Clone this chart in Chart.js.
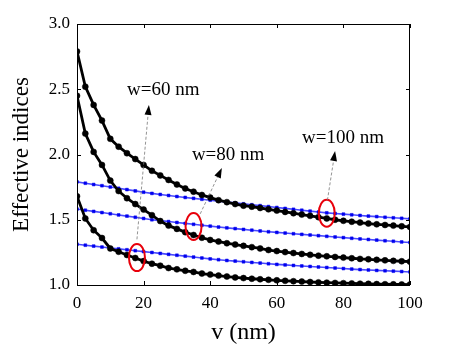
<!DOCTYPE html>
<html>
<head>
<meta charset="utf-8">
<script src="https://cdn.jsdelivr.net/npm/chart.js@4"></script>
<style>
  body { margin: 0; background: #fff; }
  canvas { display: block; }
</style>
</head>
<body>
<canvas id="myChart" width="452" height="350"></canvas>
<script>
const ctx = document.getElementById('myChart')

// v in nm, one point every 2.5 nm
const v = [0,2.5,5,7.5,10,12.5,15,17.5,20,22.5,25,27.5,30,32.5,35,37.5,40,42.5,45,47.5,50,52.5,55,57.5,60,62.5,65,67.5,70,72.5,75,77.5,80,82.5,85,87.5,90,92.5,95,97.5,100]

// black curves (top to bottom)
const black1 = [2.79,2.52,2.38,2.26,2.12,2.06,2.01,1.965,1.92,1.875,1.84,1.805,1.77,1.74,1.715,1.69,1.67,1.65,1.635,1.62,1.608,1.60,1.59,1.58,1.57,1.56,1.55,1.54,1.53,1.52,1.51,1.50,1.492,1.485,1.478,1.471,1.465,1.46,1.455,1.45,1.445]
const black2 = [2.45,2.16,2.02,1.92,1.80,1.72,1.665,1.62,1.578,1.535,1.49,1.455,1.43,1.405,1.383,1.362,1.345,1.333,1.32,1.31,1.30,1.29,1.28,1.268,1.26,1.252,1.245,1.238,1.231,1.225,1.22,1.215,1.21,1.205,1.20,1.197,1.193,1.189,1.185,1.182,1.179]
const black3 = [1.68,1.51,1.42,1.36,1.28,1.255,1.23,1.207,1.183,1.163,1.148,1.13,1.12,1.109,1.10,1.088,1.08,1.072,1.065,1.058,1.053,1.048,1.044,1.04,1.036,1.032,1.029,1.026,1.023,1.02,1.018,1.016,1.014,1.012,1.01,1.009,1.007,1.006,1.005,1.004,1.003]

// blue lines (top to bottom)
const blue1 = [1.790,1.780,1.770,1.761,1.751,1.741,1.731,1.721,1.711,1.702,1.694,1.686,1.678,1.671,1.664,1.657,1.650,1.643,1.636,1.629,1.622,1.615,1.608,1.601,1.594,1.587,1.580,1.573,1.566,1.559,1.553,1.548,1.543,1.538,1.533,1.528,1.524,1.519,1.515,1.511,1.507]
const blue2 = [1.582,1.573,1.564,1.555,1.546,1.537,1.528,1.519,1.510,1.500,1.493,1.486,1.479,1.472,1.465,1.458,1.451,1.444,1.438,1.432,1.426,1.420,1.414,1.408,1.403,1.398,1.393,1.388,1.383,1.378,1.373,1.368,1.363,1.358,1.353,1.349,1.344,1.339,1.335,1.330,1.326]
const blue3 = [1.312,1.305,1.298,1.291,1.284,1.277,1.270,1.263,1.256,1.249,1.242,1.235,1.228,1.221,1.214,1.207,1.200,1.194,1.188,1.183,1.178,1.173,1.168,1.163,1.158,1.154,1.150,1.146,1.142,1.138,1.134,1.130,1.126,1.122,1.118,1.115,1.112,1.109,1.106,1.103,1.100]

// labels, ellipses and arrows in data units
const labels = [
  { text: 'w=60 nm', x: 15, y: 2.456 },
  { text: 'w=80 nm', x: 34.5, y: 1.958 },
  { text: 'w=100 nm', x: 67.6, y: 2.088 }
]
const circles = [
  { x: 18, y: 1.21 },
  { x: 35, y: 1.448 },
  { x: 75, y: 1.55 }
]
const arrows = [
  { x0: 18, y0: 1.35, x1: 21.6, y1: 2.38 },
  { x0: 37, y0: 1.545, x1: 43.5, y1: 1.897 },
  { x0: 75.2, y0: 1.65, x1: 77.5, y1: 2.027 }
]

const serif = "'Liberation Serif', 'Times New Roman', serif"

const pts = arr => arr.map((y, i) => ({ x: v[i], y: y }))

const blackSet = arr => ({
  data: pts(arr),
  borderColor: '#000',
  backgroundColor: '#000',
  borderWidth: 2.8,
  pointRadius: 3,
  pointBorderWidth: 0.5,
  pointStyle: 'circle',
  showLine: true,
  tension: 0,
  order: 1
})
const blueSet = arr => ({
  data: pts(arr),
  borderColor: 'rgba(40,40,255,0.85)',
  backgroundColor: '#0000ee',
  pointBorderColor: '#0000ee',
  borderWidth: 1.6,
  pointRadius: 2,
  pointBorderWidth: 0.5,
  pointStyle: 'rect',
  showLine: true,
  tension: 0,
  order: 2
})

const frame = {
  id: 'frame',
  afterDraw(chart) {
    const c = chart.ctx
    const a = chart.chartArea
    const xs = chart.scales.x
    const ys = chart.scales.y
    c.save()
    c.strokeStyle = '#000'
    c.lineWidth = 1
    c.strokeRect(a.left + 0.5, a.top + 0.5, a.right - a.left - 1, a.bottom - a.top)
    xs.ticks.forEach(t => {
      const px = Math.round(xs.getPixelForValue(t.value)) + 0.5
      c.beginPath()
      c.moveTo(px, a.bottom); c.lineTo(px, a.bottom - 4)
      c.moveTo(px, a.top); c.lineTo(px, a.top + 4)
      c.stroke()
    })
    ys.ticks.forEach(t => {
      const py = Math.round(ys.getPixelForValue(t.value)) + 0.5
      c.beginPath()
      c.moveTo(a.left, py); c.lineTo(a.left + 4, py)
      c.moveTo(a.right, py); c.lineTo(a.right - 4, py)
      c.stroke()
    })

    // red ellipses
    c.strokeStyle = '#e8000b'
    c.lineWidth = 2
    circles.forEach(e => {
      c.beginPath()
      c.ellipse(xs.getPixelForValue(e.x), ys.getPixelForValue(e.y), 8, 13.5, 0, 0, Math.PI * 2)
      c.stroke()
    })

    // dashed arrows
    arrows.forEach(ar => {
      const x0 = xs.getPixelForValue(ar.x0), y0 = ys.getPixelForValue(ar.y0)
      const x1 = xs.getPixelForValue(ar.x1), y1 = ys.getPixelForValue(ar.y1)
      const ang = Math.atan2(y1 - y0, x1 - x0)
      const hl = 10, hw = 3.5
      const bx = x1 - hl * Math.cos(ang), by = y1 - hl * Math.sin(ang)
      c.strokeStyle = '#777'
      c.lineWidth = 0.8
      c.setLineDash([3, 2])
      c.beginPath()
      c.moveTo(x0, y0); c.lineTo(bx, by)
      c.stroke()
      c.setLineDash([])
      c.fillStyle = '#000'
      c.beginPath()
      c.moveTo(x1, y1)
      c.lineTo(bx + hw * Math.sin(ang), by - hw * Math.cos(ang))
      c.lineTo(bx - hw * Math.sin(ang), by + hw * Math.cos(ang))
      c.closePath()
      c.fill()
    })

    c.fillStyle = '#000'
    c.font = '19px ' + serif
    c.textBaseline = 'alphabetic'
    c.textAlign = 'left'
    labels.forEach(l => {
      c.fillText(l.text, xs.getPixelForValue(l.x), ys.getPixelForValue(l.y))
    })
    c.restore()
  }
}

const myChart = new Chart(ctx, {
  type: 'scatter',
  data: {
    datasets: [
      blackSet(black1), blackSet(black2), blackSet(black3),
      blueSet(blue1), blueSet(blue2), blueSet(blue3)
    ]
  },
  options: {
    responsive: false,
    animation: false,
    layout: { padding: { top: 24, right: 42, left: 0, bottom: 0 } },
    plugins: {
      legend: { display: false },
      tooltip: { enabled: false }
    },
    scales: {
      x: {
        type: 'linear',
        min: 0,
        max: 100,
        grid: { display: false, drawTicks: false },
        border: { display: false },
        ticks: { stepSize: 20, color: '#000', padding: 8, font: { family: serif, size: 17 } },
        title: { display: true, text: 'v (nm)', color: '#000', padding: { top: 0, bottom: 3 }, font: { family: serif, size: 24 } },
        afterFit(s) { s.height = 65 }
      },
      y: {
        type: 'linear',
        min: 1,
        max: 3,
        grid: { display: false, drawTicks: false },
        border: { display: false },
        ticks: { stepSize: 0.5, color: '#000', padding: 7, font: { family: serif, size: 17 }, callback: val => val.toFixed(1) },
        title: { display: true, text: 'Effective indices', color: '#000', padding: { top: 8, bottom: 0 }, font: { family: serif, size: 23 } },
        afterFit(s) { s.width = 77 }
      }
    }
  },
  plugins: [frame]
});
</script>
</body>
</html>
